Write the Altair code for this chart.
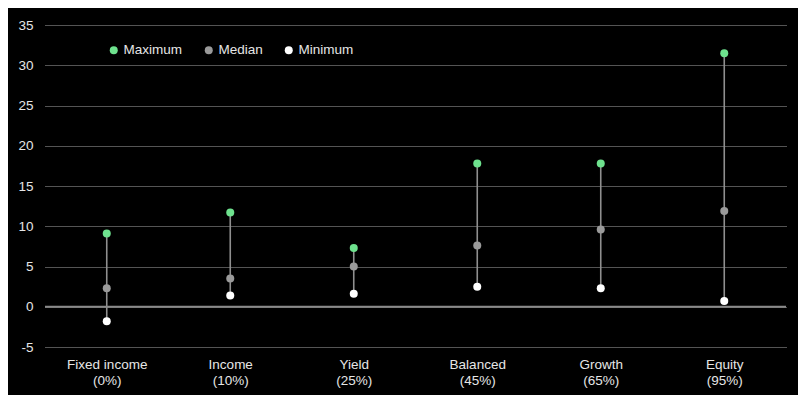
import altair as alt
import pandas as pd

categories = ["Fixed income", "Income", "Yield", "Balanced", "Growth", "Equity"]
shares = ["(0%)", "(10%)", "(25%)", "(45%)", "(65%)", "(95%)"]
maximum = [9.1, 11.7, 7.3, 17.8, 17.8, 31.5]
median = [2.3, 3.5, 5.0, 7.6, 9.6, 11.9]
minimum = [-1.8, 1.4, 1.6, 2.5, 2.3, 0.7]

series_names = ["Maximum", "Median", "Minimum"]
series_colors = ["#6ee28e", "#9a9a9a", "#ffffff"]

labels = [f"{c}|{s}" for c, s in zip(categories, shares)]

wide = pd.DataFrame({"cat": labels, "Maximum": maximum, "Median": median, "Minimum": minimum})
long = wide.melt(id_vars="cat", value_vars=series_names, var_name="Series", value_name="value")

FONT = "Liberation Sans"
LABEL_COLOR = "#e6e6e6"

xscale = alt.Scale(type="point", padding=0.5, domain=labels)
yscale = alt.Scale(domain=[-5, 35], nice=False, zero=False)

yaxis = alt.Axis(
    title=None,
    values=[-5, 0, 5, 10, 15, 20, 25, 30, 35],
    labelExpr="datum.value + ''",
    domain=False,
    ticks=False,
    grid=True,
    gridColor="#a8a8a8",
    gridDash=[1, 1],
    gridWidth=1,
    labelColor=LABEL_COLOR,
    labelFont=FONT,
    labelFontSize=13.5,
    labelPadding=12,
)

xenc = alt.X(
    "cat:N",
    scale=xscale,
    sort=labels,
    axis=alt.Axis(
        title=None,
        labelExpr="split(datum.label, '|')",
        labelAngle=0,
        domain=False,
        ticks=False,
        grid=False,
        labelColor=LABEL_COLOR,
        labelFont=FONT,
        labelFontSize=13.5,
        labelLineHeight=16,
        labelPadding=10,
    ),
)

base = alt.Chart(wide)

rules = base.mark_rule(color="#8f8f8f", strokeWidth=1.6).encode(
    x=xenc,
    y=alt.Y("Minimum:Q", scale=yscale, axis=yaxis),
    y2="Maximum:Q",
)

zero = alt.Chart(pd.DataFrame({"z": [0]})).mark_rule(color="#8a8a8a", strokeWidth=1.8).encode(
    y=alt.Y("z:Q", scale=yscale, title=None)
)

points = alt.Chart(long).mark_circle(size=64, opacity=1).encode(
    x=alt.X("cat:N", scale=xscale, sort=labels, title=None),
    y=alt.Y("value:Q", scale=yscale, title=None),
    color=alt.Color(
        "Series:N",
        scale=alt.Scale(domain=series_names, range=series_colors),
        legend=alt.Legend(
            title=None,
            orient="none",
            legendX=62,
            legendY=18,
            direction="horizontal",
            symbolType="circle",
            symbolSize=64,
            symbolStrokeWidth=0,
            labelColor=LABEL_COLOR,
            labelFont=FONT,
            labelFontSize=13.5,
            labelOffset=3,
            columnPadding=19,
        ),
    ),
)

chart = (
    alt.layer(rules, zero, points)
    .properties(
        width=741,
        height=322,
        background="#000000",
        autosize=alt.AutoSizeParams(type="none"),
        padding={"left": 37, "top": 17, "right": 12, "bottom": 48},
    )
    .configure_view(stroke=None)
)

chart.save("out.html", embed_options={"renderer": "svg", "actions": False})
